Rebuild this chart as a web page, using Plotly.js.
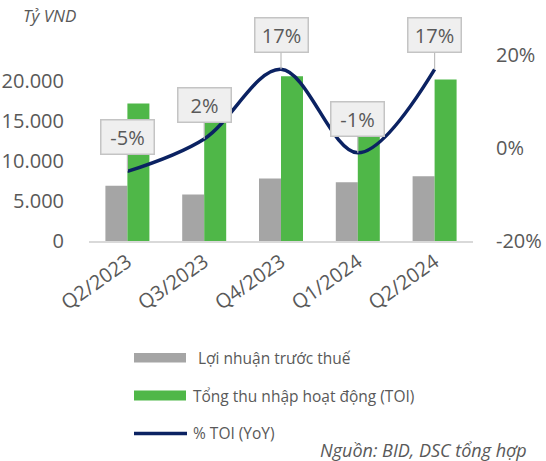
<!DOCTYPE html>
<html>
<head>
<meta charset="utf-8">
<script src="https://cdn.plot.ly/plotly-3.0.1.min.js"></script>
<style>html,body{margin:0;padding:0;background:#fff;}#chart{width:546px;height:461px;}</style>
</head>
<body>
<div id="chart"></div>
<script>
// ---- data ----
var categories = ["Q2/2023", "Q3/2023", "Q4/2023", "Q1/2024", "Q2/2024"];
var profitBeforeTax = [6900, 5800, 7800, 7350, 8100];      // Lợi nhuận trước thuế (tỷ VND)
var totalOperatingIncome = [17200, 16800, 20600, 17000, 20200]; // TOI (tỷ VND)
var toiYoY = [-5, 2, 17, -1, 17];                            // % TOI (YoY)
var leftTickVals = [0, 5000, 10000, 15000, 20000];
var rightTickVals = [-20, 0, 20];
var rightTickText = ["-20%", "0%", "20%"];
var legendNames = ["Lợi nhuận trước thuế", "Tổng thu nhập hoạt động (TOI)", "% TOI (YoY)"];

// ---- style ----
var GREY = "#a5a5a5", GREEN = "#4fb748", NAVY = "#0b2262", TXT = "#595959";
var FONT = "Open Sans, Noto Sans, sans-serif";

var traces = [
  {type: "bar", x: categories, y: profitBeforeTax, name: legendNames[0],
   marker: {color: GREY}, showlegend: false, hoverinfo: "none"},
  {type: "bar", x: categories, y: totalOperatingIncome, name: legendNames[1],
   marker: {color: GREEN}, showlegend: false, hoverinfo: "none"},
  {type: "scatter", mode: "lines", x: categories, y: toiYoY, yaxis: "y2", name: legendNames[2],
   line: {color: NAVY, width: 3.5, shape: "spline", smoothing: 1}, showlegend: false, hoverinfo: "none"}
];

// plot area in pixels
var L = 89, R = 473, T = 41, B = 241, W = 546, H = 461;
function px(x) { return (x - L) / (R - L); }
function py(y) { return (B - y) / (B - T); }

var annotations = [];
categories.forEach(function (c, i) {
  var v = toiYoY[i];
  annotations.push({
    x: c, y: v, xref: "x", yref: "y2",
    text: (v < 0 ? "-" : "") + Math.abs(v) + "%",
    showarrow: true, arrowhead: 0, arrowwidth: 1.2, arrowcolor: "#bdbdbd",
    ax: 0, ay: -34,
    bgcolor: "#efefef", bordercolor: "#c4c4c4", borderwidth: 1.5, borderpad: 2,
    width: 48, height: 29,
    font: {family: FONT, size: 20, color: TXT}
  });
});

// title and source
annotations.push({xref: "paper", yref: "paper", x: px(21), y: py(15), xanchor: "left", yanchor: "middle",
  text: "<i>Tỷ VND</i>", showarrow: false, font: {family: FONT, size: 17, color: TXT}});
annotations.push({xref: "paper", yref: "paper", x: px(529), y: py(450), xanchor: "right", yanchor: "middle",
  text: "<i>Nguồn: BID, DSC tổng hợp</i>", showarrow: false, font: {family: FONT, size: 18, color: TXT}});

// custom legend
var legendRows = [358, 395.5, 433];
var legendTextX = [196, 191, 191];
var shapes = [
  {type: "rect", xref: "paper", yref: "paper", x0: px(134), x1: px(186), y0: py(353), y1: py(362.5),
   fillcolor: GREY, line: {width: 0}},
  {type: "rect", xref: "paper", yref: "paper", x0: px(134), x1: px(186), y0: py(390.5), y1: py(400.5),
   fillcolor: GREEN, line: {width: 0}},
  {type: "line", xref: "paper", yref: "paper", x0: px(134), x1: px(187), y0: py(433.5), y1: py(433.5),
   line: {color: NAVY, width: 3.5}}
];
legendNames.forEach(function (n, i) {
  annotations.push({xref: "paper", yref: "paper", x: px(legendTextX[i]), y: py(legendRows[i]),
    xanchor: "left", yanchor: "middle", text: n, showarrow: false,
    font: {family: FONT, size: 15.5, color: TXT}});
});

var layout = {
  width: W, height: H,
  margin: {l: L, r: W - R, t: T, b: H - B, pad: 0},
  paper_bgcolor: "#ffffff", plot_bgcolor: "#ffffff",
  separators: ",.",
  barmode: "group", bargap: 0.427, bargroupgap: 0,
  showlegend: false,
  font: {family: FONT, color: TXT},
  xaxis: {type: "category", showline: true, linecolor: "#d9d9d9", linewidth: 1.5,
    ticks: "", tickangle: -35, tickfont: {family: FONT, size: 20, color: TXT},
    showgrid: false, zeroline: false, fixedrange: true},
  yaxis: {range: [0, 25000], tickvals: leftTickVals, tickformat: ",d", showgrid: false,
    zeroline: false, showline: false, ticks: "", ticklabelstandoff: 24,
    tickfont: {family: FONT, size: 20, color: TXT}, fixedrange: true},
  yaxis2: {overlaying: "y", side: "right", range: [-20, 23.1], tickvals: rightTickVals,
    ticktext: rightTickText, showgrid: false, zeroline: false, showline: false, ticks: "",
    ticklabelstandoff: 22, tickfont: {family: FONT, size: 20, color: TXT}, fixedrange: true},
  annotations: annotations,
  shapes: shapes
};

Plotly.newPlot("chart", traces, layout, {displayModeBar: false, staticPlot: true});
</script>
</body>
</html>
